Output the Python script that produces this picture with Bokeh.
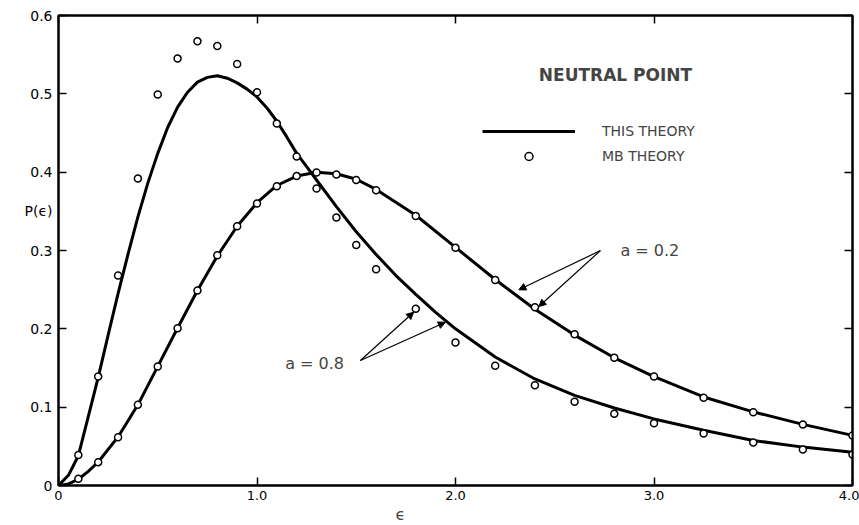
from bokeh.plotting import figure
from bokeh.models import (LinearAxis, Label, Arrow, NormalHead, Legend, LegendItem,
                          FixedTicker, Range1d, Title)
from bokeh.embed import file_html
from bokeh.resources import INLINE

# ---- data ----
eps_th_08 = [0, 0.05, 0.1, 0.15, 0.2, 0.25, 0.3, 0.35, 0.4, 0.45, 0.5, 0.55, 0.6, 0.65,
             0.7, 0.75, 0.8, 0.85, 0.9, 0.95, 1.0, 1.05, 1.1, 1.15, 1.2, 1.25, 1.3, 1.4,
             1.5, 1.6, 1.7, 1.8, 1.9, 2.0, 2.2, 2.4, 2.6, 2.8, 3.0, 3.25, 3.5, 3.75, 4.0]
p_th_08 = [0, 0.013, 0.038, 0.088, 0.138, 0.192, 0.245, 0.295, 0.343, 0.386, 0.424, 0.457,
           0.483, 0.502, 0.515, 0.521, 0.523, 0.520, 0.514, 0.506, 0.496, 0.482, 0.465,
           0.445, 0.424, 0.407, 0.390, 0.356, 0.324, 0.295, 0.268, 0.244, 0.221, 0.200,
           0.164, 0.136, 0.115, 0.099, 0.085, 0.0705, 0.0575, 0.049, 0.0425]

eps_th_02 = [0, 0.05, 0.1, 0.15, 0.2, 0.3, 0.4, 0.5, 0.6, 0.7, 0.8, 0.9, 1.0, 1.1, 1.2,
             1.3, 1.4, 1.5, 1.6, 1.8, 2.0, 2.2, 2.4, 2.6, 2.8, 3.0, 3.25, 3.5, 3.75, 4.0]
p_th_02 = [0, 0.002, 0.008, 0.018, 0.030, 0.062, 0.103, 0.152, 0.201, 0.249, 0.293, 0.331,
           0.361, 0.383, 0.395, 0.400, 0.398, 0.391, 0.378, 0.345, 0.304, 0.263, 0.225,
           0.192, 0.163, 0.139, 0.113, 0.094, 0.078, 0.064]

eps_mb = [0.1, 0.2, 0.3, 0.4, 0.5, 0.6, 0.7, 0.8, 0.9, 1.0, 1.1, 1.2, 1.3, 1.4, 1.5, 1.6,
          1.8, 2.0, 2.2, 2.4, 2.6, 2.8, 3.0, 3.25, 3.5, 3.75, 4.0]
p_mb_08 = [0.039, 0.139, 0.268, 0.392, 0.499, 0.545, 0.567, 0.561, 0.538, 0.502, 0.462,
           0.420, 0.379, 0.342, 0.307, 0.276, 0.2255, 0.1825, 0.153, 0.128, 0.107, 0.0915,
           0.0795, 0.0664, 0.0549, 0.046, 0.0396]
p_mb_02 = [0.0085, 0.0298, 0.0617, 0.103, 0.152, 0.2008, 0.249, 0.294, 0.331, 0.360, 0.382,
           0.395, 0.3995, 0.397, 0.390, 0.377, 0.344, 0.3034, 0.2625, 0.2276, 0.193, 0.163,
           0.139, 0.112, 0.0936, 0.0779, 0.0638]

x_ticks = [0, 1, 2, 3, 4]
x_tick_labels = ["0", "1.0", "2.0", "3.0", "4.0"]
y_ticks = [0, 0.1, 0.2, 0.3, 0.4, 0.5, 0.6]
y_tick_labels = ["0", "0.1", "0.2", "0.3", "0.4", "0.5", "0.6"]
y_title = "P(ϵ)"
y_title_at = 0.35
x_title = "ϵ"

FONT = "DejaVu Sans"

p = figure(width=859, height=525, x_range=Range1d(0, 4), y_range=Range1d(0, 0.6),
           output_backend="svg", toolbar_location=None,
           min_border_left=58, min_border_right=7, min_border_top=15, min_border_bottom=40)
p.grid.visible = False
p.outline_line_color = "black"
p.outline_line_width = 2
p.background_fill_color = "white"
p.border_fill_color = "white"

top_axis = LinearAxis()
right_axis = LinearAxis()
p.add_layout(top_axis, "above")
p.add_layout(right_axis, "right")

for ax in p.xaxis:
    ax.ticker = FixedTicker(ticks=x_ticks)
    ax.major_label_overrides = {t: l for t, l in zip(x_ticks, x_tick_labels)}
for ax in p.yaxis:
    ax.ticker = FixedTicker(ticks=y_ticks)
    ax.major_label_overrides = {t: l for t, l in zip(y_ticks, y_tick_labels)}

for ax in p.xaxis + p.yaxis:
    ax.axis_line_width = 2
    ax.axis_line_color = "black"
    ax.major_tick_in = 8
    ax.major_tick_out = 0
    ax.minor_tick_in = 0
    ax.minor_tick_out = 0
    ax.major_tick_line_width = 1.5
    ax.major_label_text_font = FONT
    ax.major_label_text_font_size = "13px"
    ax.major_label_text_color = "black"

# left axis: real ticks drawn as minor ticks, the y title sits in the label column
left = p.yaxis[0]
left.ticker = FixedTicker(ticks=y_ticks + [y_title_at], minor_ticks=y_ticks)
overrides = {t: l for t, l in zip(y_ticks, y_tick_labels)}
overrides[y_title_at] = y_title
left.major_label_overrides = overrides
left.major_tick_in = 0
left.minor_tick_in = 8
left.minor_tick_out = 0
left.minor_tick_line_width = 1.5
left.minor_tick_line_color = "black"
left.major_label_standoff = 6
left.major_label_text_font_size = "14px"

p.xaxis[0].major_label_standoff = 6
for ax in (top_axis, right_axis):
    ax.major_label_text_font_size = "0px"
    ax.major_label_text_color = None
    ax.major_label_standoff = 0

# x title below the tick labels
p.add_layout(Title(text=x_title, align="left", offset=337, standoff=0,
                   text_font=FONT, text_font_size="16px", text_font_style="normal"),
             "below")

# theory curves
r_th08 = p.line(eps_th_08, p_th_08, line_width=3, line_color="black")
r_th02 = p.line(eps_th_02, p_th_02, line_width=3, line_color="black")

# MB points
r_mb08 = p.scatter(eps_mb, p_mb_08, marker="circle", size=7, fill_color="white",
                   line_color="black", line_width=1.5)
r_mb02 = p.scatter(eps_mb, p_mb_02, marker="circle", size=7, fill_color="white",
                   line_color="black", line_width=1.5)

legend = Legend(items=[LegendItem(label="THIS THEORY", renderers=[r_th08]),
                       LegendItem(label="MB THEORY", renderers=[r_mb08])],
                location=(424, 319), glyph_width=93, glyph_height=20, label_height=20,
                spacing=5, label_standoff=27, padding=0, margin=0,
                border_line_color=None, background_fill_alpha=0,
                label_text_font=FONT, label_text_font_size="14px")
p.add_layout(legend)

p.add_layout(Label(x=2.806, y=0.5246, text="NEUTRAL POINT", text_align="center",
                   text_baseline="middle", text_font=FONT, text_font_size="17px",
                   text_font_style="bold"))

# annotations a = 0.2 / a = 0.8
p.add_layout(Label(x=2.831, y=0.2999, text="a = 0.2", text_align="left",
                   text_baseline="middle", text_font=FONT, text_font_size="16px"))
p.add_layout(Label(x=1.142, y=0.1561, text="a = 0.8", text_align="left",
                   text_baseline="middle", text_font=FONT, text_font_size="16px"))

for xs, ys, xe, ye in [(2.730, 0.2999, 2.319, 0.2498), (2.730, 0.2999, 2.420, 0.2285),
                       (1.521, 0.1595, 1.789, 0.2212), (1.521, 0.1595, 1.949, 0.2084)]:
    p.add_layout(Arrow(end=NormalHead(size=7, fill_color="black", line_color="black"),
                       x_start=xs, y_start=ys, x_end=xe, y_end=ye,
                       line_width=1.2, line_color="black"))

open("out.html", "w").write(file_html(p, INLINE))
